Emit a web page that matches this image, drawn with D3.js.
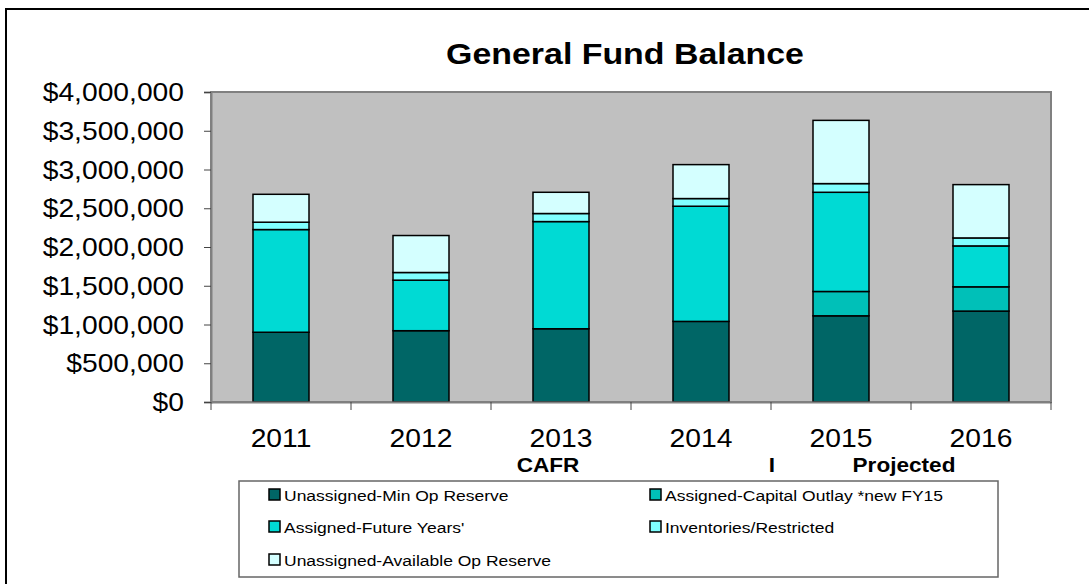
<!DOCTYPE html>
<html>
<head>
<meta charset="utf-8">
<script src="https://cdn.jsdelivr.net/npm/d3@7"></script>
<style>
  body { margin: 0; background: #fff; }
  text { font-family: "Liberation Sans", Arial, sans-serif; }
</style>
</head>
<body>
<div id="chart"></div>
<script>
// data
var years = ["2011", "2012", "2013", "2014", "2015", "2016"];
var seriesNames = ["Unassigned-Min Op Reserve", "Assigned-Capital Outlay *new FY15",
  "Assigned-Future Years'", "Inventories/Restricted", "Unassigned-Available Op Reserve"];
var minOpReserve   = [900000, 920000, 945000, 1040000, 1112000, 1173000];
var capitalOutlay  = [0, 0, 0, 0, 314000, 313000];
var futureYears    = [1325000, 652000, 1383000, 1486000, 1280000, 528000];
var inventories    = [95000, 99000, 104000, 99000, 112000, 103000];
var availReserve   = [360000, 477000, 274000, 438000, 816000, 688000];
var yTicks = [0, 500000, 1000000, 1500000, 2000000, 2500000, 3000000, 3500000, 4000000];
var colors = ["#006666", "#00C0B8", "#00DAD4", "#80FFFF", "#D4FFFF"];

var W = 1089, H = 584;
var plot = {left: 211, right: 1051, top: 92, bottom: 402};
var sx = 1.13; // text in the picture is stretched horizontally

var svg = d3.select("#chart").append("svg")
    .attr("width", W).attr("height", H);

// outer frame (only left and top edges show)
svg.append("path")
  .attr("d", "M6,584 V9 H1089")
  .attr("fill", "none").attr("stroke", "#000").attr("stroke-width", 2);

function stretchText(g, x, y, str, size, weight, anchor) {
  return g.append("text")
    .attr("transform", "translate(" + x + "," + y + ") scale(" + sx + ",1)")
    .attr("text-anchor", anchor || "middle")
    .style("font-size", size + "px")
    .style("font-weight", weight || "normal")
    .text(str);
}

stretchText(svg, 625, 64, "General Fund Balance", 30, "bold");

var x = d3.scaleBand().domain(years).range([plot.left, plot.right]).paddingInner(0.6).paddingOuter(0.3);
var xb = d3.scaleBand().domain(years).range([plot.left, plot.right]);
var y = d3.scaleLinear().domain([0, 4000000]).range([plot.bottom, plot.top]);

svg.append("rect")
  .attr("x", plot.left).attr("y", plot.top)
  .attr("width", plot.right - plot.left).attr("height", plot.bottom - plot.top)
  .attr("fill", "#C0C0C0").attr("stroke", "#808080").attr("stroke-width", 2);

var table = years.map(function(yr, i) {
  return {year: yr, s0: minOpReserve[i], s1: capitalOutlay[i], s2: futureYears[i], s3: inventories[i], s4: availReserve[i]};
});
var stack = d3.stack().keys(["s0", "s1", "s2", "s3", "s4"])(table);

svg.append("g").selectAll("g")
  .data(stack).join("g")
    .attr("fill", function(d, i) { return colors[i]; })
  .selectAll("rect")
  .data(function(d) { return d.filter(function(p) { return p[1] > p[0]; }); })
  .join("rect")
    .attr("x", function(d) { return x(d.data.year); })
    .attr("width", x.bandwidth())
    .attr("y", function(d) { return y(d[1]); })
    .attr("height", function(d) { return y(d[0]) - y(d[1]); })
    .attr("stroke", "#000").attr("stroke-width", 1.5);

// y axis
var yAxis = svg.append("g")
  .attr("transform", "translate(" + plot.left + ",0)")
  .call(d3.axisLeft(y).tickValues(yTicks).tickSize(7).tickFormat(function() { return ""; }));
yAxis.select(".domain").attr("stroke", "#808080").attr("stroke-width", 2);
yAxis.selectAll(".tick line").attr("stroke", "#444");
yTicks.forEach(function(v) {
  stretchText(svg, 184, y(v) + 9, "$" + d3.format(",")(v), 25, "normal", "end");
});

// x axis
var xAxis = svg.append("g")
  .attr("transform", "translate(0," + plot.bottom + ")")
  .call(d3.axisBottom(xb).tickSize(0).tickFormat(function() { return ""; }));
xAxis.select(".domain").attr("stroke", "#808080").attr("stroke-width", 2);
xAxis.selectAll(".tick").remove();
years.concat(["end"]).forEach(function(yr, i) {
  var px = plot.left + i * xb.step();
  svg.append("line").attr("x1", px).attr("x2", px).attr("y1", plot.bottom).attr("y2", plot.bottom + 8)
    .attr("stroke", "#444");
});
years.forEach(function(yr) {
  stretchText(svg, xb(yr) + xb.bandwidth() / 2, 447, yr, 25);
});

stretchText(svg, 548, 472, "CAFR", 20, "bold");
stretchText(svg, 772, 472, "I", 20, "bold");
stretchText(svg, 904, 472, "Projected", 20, "bold");

// legend
var lg = svg.append("g");
lg.append("rect").attr("x", 239).attr("y", 481).attr("width", 759).attr("height", 96)
  .attr("fill", "#fff").attr("stroke", "#666").attr("stroke-width", 1.5);
var legendPos = [[269, 495], [650, 495], [269, 527], [650, 527], [269, 560]];
seriesNames.forEach(function(name, i) {
  var p = legendPos[i];
  lg.append("rect").attr("x", p[0]).attr("y", p[1] - 6).attr("width", 11).attr("height", 11)
    .attr("fill", colors[i]).attr("stroke", "#000").attr("stroke-width", 1.5);
  stretchText(lg, p[0] + 15, p[1] + 6, name, 15.5, "normal", "start");
});
</script>
</body>
</html>
